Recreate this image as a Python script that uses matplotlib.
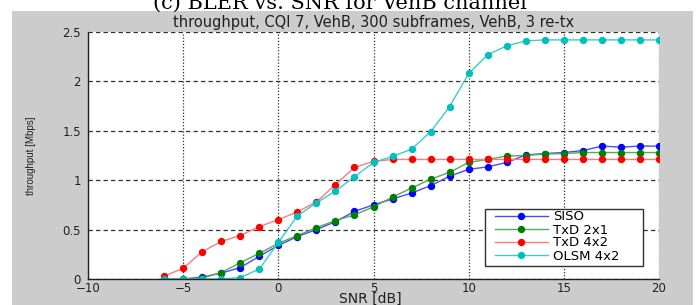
import matplotlib
matplotlib.use("Agg")
import matplotlib.pyplot as plt
from matplotlib.patches import Rectangle

# ---- data ----
snr = list(range(-6, 21))
siso = [0.0, 0.0, 0.02, 0.06, 0.115, 0.23, 0.34, 0.43, 0.50, 0.58, 0.685, 0.75,
        0.81, 0.87, 0.945, 1.04, 1.11, 1.135, 1.18, 1.255, 1.27, 1.28, 1.30,
        1.345, 1.335, 1.345, 1.345]
txd21 = [0.0, 0.0, 0.01, 0.065, 0.165, 0.26, 0.36, 0.44, 0.52, 0.59, 0.65, 0.73,
         0.83, 0.92, 1.01, 1.08, 1.18, 1.21, 1.245, 1.25, 1.265, 1.27, 1.28,
         1.28, 1.28, 1.28, 1.28]
txd42 = [0.03, 0.108, 0.276, 0.38, 0.44, 0.53, 0.60, 0.68, 0.78, 0.955, 1.13, 1.19,
         1.21, 1.21, 1.21, 1.21, 1.21, 1.21, 1.21, 1.21, 1.21, 1.21, 1.21,
         1.21, 1.21, 1.21, 1.21]
olsm = [0.0, 0.0, 0.0, 0.0, 0.015, 0.10, 0.37, 0.64, 0.77, 0.89, 1.035, 1.18,
        1.24, 1.315, 1.49, 1.745, 2.08, 2.27, 2.36, 2.41, 2.42, 2.42, 2.42,
        2.42, 2.42, 2.42, 2.42]
labels = ["SISO", "TxD 2x1", "TxD 4x2", "OLSM 4x2"]
xticks = [-10, -5, 0, 5, 10, 15, 20]
yticks = [0, 0.5, 1, 1.5, 2, 2.5]
ytick_labels = ["0", "0.5", "1", "1.5", "2", "2.5"]

marker_colors = ["#0000ff", "#008000", "#ff0000", "#00bfbf"]
line_colors = ["#4a4aff", "#55aa55", "#ff7a7a", "#40caca"]

fig = plt.figure(figsize=(6.99, 3.05), dpi=100)
fig.patch.set_facecolor("white")
fig.patches.append(Rectangle((12 / 699, 0), (693 - 12) / 699, (305 - 11) / 305,
                             transform=fig.transFigure, facecolor="#cccccc",
                             edgecolor="none", zorder=-10))

fig.text(340 / 699, 1 - 9 / 305, "(c) BLER vs. SNR for VehB channel",
         family="DejaVu Serif", fontsize=15, ha="center", va="baseline")

ax = fig.add_axes([88 / 699, 26 / 305, (659 - 88) / 699, (279 - 32) / 305])
ax.set_facecolor("white")

for y, lab, mc, lc in zip([siso, txd21, txd42, olsm], labels, marker_colors, line_colors):
    ax.plot(snr, y, color=lc, lw=1.0, marker="o", ms=4.3,
            markerfacecolor=mc, markeredgecolor=mc, label=lab)

ax.set_xlim(-10, 20)
ax.set_ylim(0, 2.5)
ax.set_xticks(xticks)
ax.set_yticks(yticks)
ax.set_yticklabels(ytick_labels)
ax.tick_params(length=0, labelsize=8.5, colors="#202020")
ax.tick_params(axis="x", pad=2)
ax.tick_params(axis="y", pad=5)

ax.xaxis.grid(True, color="#303030", linestyle=(0, (1, 1.5)), lw=0.9)
ax.yaxis.grid(True, color="#303030", linestyle=(0, (3.5, 2.5)), lw=0.9)
ax.set_axisbelow(True)
for s in ["top", "right"]:
    ax.spines[s].set_visible(False)
for s in ["left", "bottom"]:
    ax.spines[s].set_color("#202020")
    ax.spines[s].set_linewidth(1.0)

ax.set_xlabel("SNR [dB]", fontsize=10, color="#202020")
ax.xaxis.label.set_va("baseline")
ax.xaxis.set_label_coords(0.495, -(303 - 279) / 247)
ax.set_ylabel("throughput [Mbps]", family="Liberation Sans", fontsize=7, color="#202020")
ax.yaxis.set_label_coords(-0.091, 0.5)
ax.set_title("throughput, CQI 7, VehB, 300 subframes, VehB, 3 re-tx",
             fontsize=10.5, color="#202020", pad=3.5)

# legend frame (MATLAB-style box) drawn as a patch, entries via legend
frame = Rectangle(((485 - 88) / 571, (279 - 266) / 247), (643 - 485) / 571, (266 - 209) / 247,
                  transform=ax.transAxes, facecolor="white", edgecolor="#303030",
                  lw=1.0, zorder=4)
ax.add_patch(frame)
leg = ax.legend(loc="upper left", bbox_to_anchor=((495 - 88) / 571, (279 - 210.5) / 247),
                fontsize=9.5, handlelength=4.0, handletextpad=0.4, labelspacing=0.0,
                borderpad=0, borderaxespad=0, frameon=False)
leg.set_zorder(5)

fig.savefig("out.png", dpi=100, facecolor=fig.get_facecolor())
